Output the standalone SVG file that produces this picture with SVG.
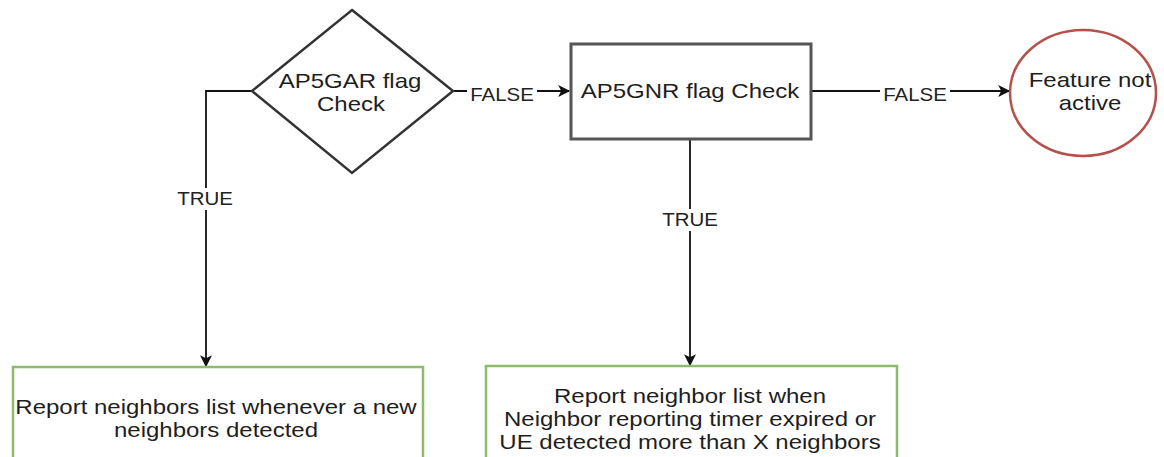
<svg xmlns="http://www.w3.org/2000/svg" width="1164" height="457" viewBox="0 0 1164 457">
<defs>
<marker id="arr" viewBox="0 0 10 10" refX="9" refY="5" markerWidth="13" markerHeight="12" markerUnits="userSpaceOnUse" orient="auto">
<path d="M0,0 L10,5 L0,10 L2.5,5 Z" fill="#111"/>
</marker>
<style>
.t{font-family:"Liberation Sans",Arial,sans-serif;font-size:20px;fill:#1e1e1e;text-anchor:middle}
.l{font-family:"Liberation Sans",Arial,sans-serif;font-size:17.5px;fill:#222;text-anchor:middle}
.c{stroke:#111;stroke-width:1.8;fill:none}
.bg{fill:#fff}
</style>
</defs>
<rect width="1164" height="457" fill="#fff"/>
<g id="connectors">
<polyline class="c" points="252,91 206,91 206,366" marker-end="url(#arr)"/>
<line class="c" x1="453" y1="91" x2="569" y2="91" marker-end="url(#arr)"/>
<line class="c" x1="811" y1="91" x2="1009" y2="91" marker-end="url(#arr)"/>
<line class="c" x1="690" y1="140" x2="690" y2="365" marker-end="url(#arr)"/>
<rect class="bg" x="172" y="188" width="66" height="22"/>
<text class="l" transform="translate(205,205) scale(1.17,1)">TRUE</text>
<rect class="bg" x="467" y="84" width="70" height="20"/>
<text class="l" transform="translate(502,101) scale(1.17,1)">FALSE</text>
<rect class="bg" x="880" y="84" width="70" height="20"/>
<text class="l" transform="translate(915,101) scale(1.17,1)">FALSE</text>
<rect class="bg" x="657" y="209" width="66" height="22"/>
<text class="l" transform="translate(690,226) scale(1.17,1)">TRUE</text>
</g>
<g id="ap5gar">
<polygon points="352,10 453,91 352,173 252,91" fill="#fff" stroke="#333" stroke-width="2.5"/>
<text class="t" transform="translate(350,88) scale(1.2,1)">AP5GAR flag</text>
<text class="t" transform="translate(351,111) scale(1.2,1)">Check</text>
</g>
<g id="ap5gnr">
<rect x="571" y="44" width="240" height="95" fill="#fff" stroke="#555" stroke-width="3"/>
<text class="t" transform="translate(690,98) scale(1.2,1)">AP5GNR flag Check</text>
</g>
<g id="feature">
<ellipse cx="1083" cy="93" rx="73" ry="63" fill="#fff" stroke="#b5514a" stroke-width="2.5"/>
<text class="t" transform="translate(1090,87) scale(1.2,1)">Feature not</text>
<text class="t" transform="translate(1090,110) scale(1.2,1)">active</text>
</g>
<g id="report-new">
<rect x="13" y="367" width="410" height="100" fill="#fff" stroke="#8dba6e" stroke-width="2.5"/>
<text class="t" transform="translate(216,414) scale(1.2,1)">Report neighbors list whenever a new</text>
<text class="t" transform="translate(216,437) scale(1.2,1)">neighbors detected</text>
</g>
<g id="report-timer">
<rect x="486" y="366" width="411" height="100" fill="#fff" stroke="#8dba6e" stroke-width="2.5"/>
<text class="t" transform="translate(690,403) scale(1.2,1)">Report neighbor list when</text>
<text class="t" transform="translate(690,426) scale(1.2,1)">Neighbor reporting timer expired or</text>
<text class="t" transform="translate(690,449) scale(1.2,1)">UE detected more than X neighbors</text>
</g>
</svg>
